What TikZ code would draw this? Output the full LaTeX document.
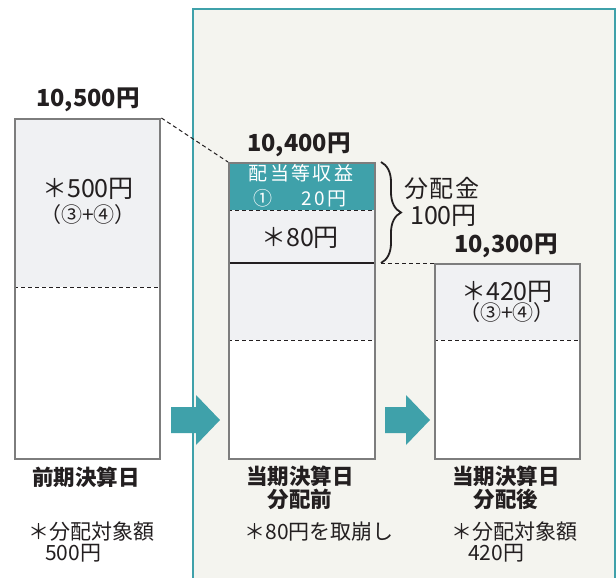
\documentclass[tikz,border=0pt]{standalone}
\usepackage{fontspec}
\setmainfont{Noto Sans CJK JP}
\usetikzlibrary{decorations.pathreplacing}
\definecolor{tealc}{HTML}{3FA1AA}
\definecolor{panelbg}{HTML}{F4F4EF}
\definecolor{grayfill}{HTML}{F0F1F3}
\definecolor{boxline}{HTML}{7D7D7D}
\definecolor{ink}{HTML}{231F20}
\begin{document}
\begin{tikzpicture}[x=1pt,y=-1pt,
  boxframe/.style={draw=boxline,line width=2.4pt,rectangle,inner sep=0pt,anchor=north west},
  sep/.style={ink,line width=1pt,dash pattern=on 4pt off 3pt},
  total/.style={ink,font=\fontsize{23.5}{25}\selectfont\bfseries,inner sep=0pt},
  big/.style={ink,font=\fontsize{25}{27}\selectfont,inner sep=0pt},
  small/.style={ink,font=\fontsize{21}{23}\selectfont,inner sep=0pt},
  wtxt/.style={white,font=\fontsize{19}{21}\selectfont\addfontfeatures{LetterSpace=12},inner sep=0pt},
  datelabel/.style={ink,font=\fontsize{21.5}{23}\selectfont\bfseries,inner sep=0pt,align=center},
  note/.style={ink,font=\fontsize{21}{23}\selectfont,inner sep=0pt,anchor=west},
  blockarrow/.style={fill=tealc}]
\useasboundingbox (0,0) rectangle (616,578);
\fill[white] (0,0) rectangle (616,578);
% panel
\fill[panelbg] (193,9) rectangle (615,578);
\draw[tealc,line width=2.4pt] (193,578) -- (193,9) -- (615,9) -- (615,578);
% left box fills
\fill[grayfill] (14,118) rectangle (159,287);
\fill[white] (14,287) rectangle (159,458);
\draw[sep] (14,287) -- (159,287);
\node[boxframe,minimum width=145pt,minimum height=340pt] (L) at (14,118) {};
% middle box fills
\fill[tealc] (228,162) rectangle (374,210);
\fill[grayfill] (228,210) rectangle (374,340);
\fill[white] (228,340) rectangle (374,458);
\draw[sep] (228,210) -- (374,210);
\draw[ink,line width=1.2pt] (228,263) -- (374,263);
\draw[sep] (228,340) -- (374,340);
\node[boxframe,minimum width=146pt,minimum height=296pt] (M) at (228,162) {};
% right box fills
\fill[grayfill] (434,263) rectangle (579,340);
\fill[white] (434,340) rectangle (579,458);
\draw[sep] (434,340) -- (579,340);
\node[boxframe,minimum width=145pt,minimum height=195pt] (R) at (434,263) {};
% connectors
\draw[sep] (L.north east) -- (M.north west);
\coordinate (braceTop) at (381,162);
\coordinate (braceBot) at (381,263);
\draw[ink,line width=1.8pt,decorate,decoration={brace,amplitude=20pt}] (braceTop) -- (braceBot);
\draw[sep] (braceBot) -- (R.north west);
% block arrows
\fill[blockarrow] (171,407) -- (196,407) -- (196,395) -- (220,420) -- (196,445) -- (196,433) -- (171,433) -- cycle;
\fill[blockarrow] (385,407) -- (406,407) -- (406,395) -- (430,420) -- (406,445) -- (406,433) -- (385,433) -- cycle;
% texts
\node[total] (tL) at (88,100) {10,500円};
\node[big] (aL) at (88,189) {＊500円};
\node[small] (bL) at (88,215) {（③+④）};
\node[total] (tM) at (299,145) {10,400円};
\node[wtxt] (w1) at (301,173) {配当等収益};
\node[wtxt] (w2) at (300,198) {①\quad\enspace 20円};
\node[big] (aM) at (300,238) {＊80円};
\node[big,anchor=west,font=\fontsize{24}{26}\selectfont\addfontfeatures{LetterSpace=6}] (d1) at (404,188) {分配金};
\node[big,anchor=west] (d2) at (410,216) {100円};
\node[total] (tR) at (506,246) {10,300円};
\node[big] (aR) at (507,292) {＊420円};
\node[small] (bR) at (507,313) {（③+④）};
\node[datelabel] (cL) at (86,477) {前期決算日};
\node[datelabel] (cM) at (300,488) {当期決算日\\分配前};
\node[datelabel] (cR) at (506,488) {当期決算日\\分配後};
\node[note] (nL1) at (28,532) {＊分配対象額};
\node[note] (nL2) at (45,553) {500円};
\node[note,anchor=center] (nM) at (319,532) {＊80円を取崩し};
\node[note] (nR1) at (451,532) {＊分配対象額};
\node[note] (nR2) at (468,553) {420円};
\end{tikzpicture}
\end{document}
